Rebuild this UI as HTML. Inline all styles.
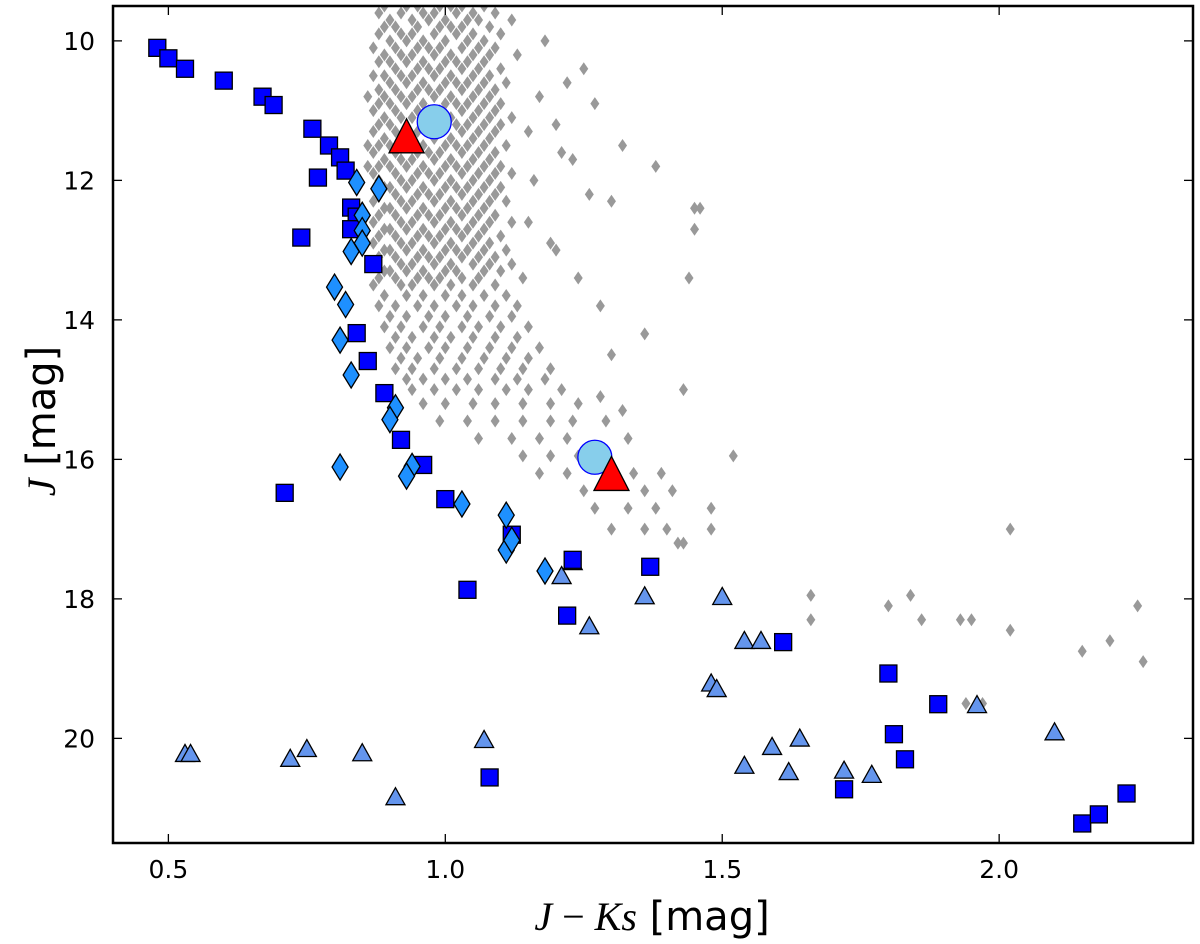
<!DOCTYPE html>
<html><head><meta charset="utf-8"><style>
html,body{margin:0;padding:0;background:#fff;}
svg{display:block;font-family:"DejaVu Sans","Liberation Sans",sans-serif;}
</style></head><body>
<svg id="chart" width="1200" height="944" viewBox="0 0 1200 944" xmlns="http://www.w3.org/2000/svg">
<rect x="0" y="0" width="1200" height="944" fill="#fff"/>
<g id="marks"></g>
<g id="axes"></g>
</svg>
<script>
const xTicks = [0.5, 1.0, 1.5, 2.0];
const xTickLabels = ["0.5", "1.0", "1.5", "2.0"];
const yTicks = [10, 12, 14, 16, 18, 20];
const yTickLabels = ["10", "12", "14", "16", "18", "20"];

// grey field stars: rows of [J, x1, x2, ...]
const greyRows = [
[9.5,0.89,0.93,0.95,0.99,1.01,1.03,1.07],
[9.6,0.88,0.92,0.96,0.98,1.02,1.05,1.09],
[9.7,0.90,0.94,0.97,1.00,1.04,1.06],
[9.8,0.89,0.91,0.95,0.99,1.01,1.03,1.08],
[9.9,0.88,0.92,0.94,0.98,1.02,1.05,1.10],
[10.0,0.90,0.93,0.96,1.00,1.04,1.07],
[10.1,0.87,0.91,0.95,0.97,0.99,1.03,1.06,1.09],
[10.2,0.89,0.92,0.94,0.98,1.01,1.05,1.08],
[10.3,0.88,0.90,0.93,0.96,1.00,1.02,1.04,1.07],
[10.4,0.91,0.95,0.97,0.99,1.03,1.06,1.10],
[10.5,0.87,0.89,0.92,0.94,0.98,1.01,1.05,1.08],
[10.6,0.90,0.93,0.96,1.00,1.02,1.04,1.07,1.11],
[10.7,0.88,0.91,0.95,0.97,0.99,1.03,1.06,1.09],
[10.8,0.86,0.89,0.92,0.94,0.98,1.01,1.05,1.08],
[10.9,0.88,0.90,0.93,0.96,1.00,1.02,1.04,1.07,1.10],
[11.0,0.87,0.91,0.95,0.97,0.99,1.03,1.06,1.09],
[11.1,0.89,0.92,0.94,0.98,1.01,1.05,1.08,1.12],
[11.2,0.88,0.90,0.96,1.00,1.02,1.04,1.07,1.10],
[11.3,0.87,0.91,0.95,0.97,0.99,1.03,1.06,1.09],
[11.4,0.89,0.92,0.94,0.98,1.01,1.05,1.08],
[11.5,0.86,0.88,0.90,0.93,0.96,1.00,1.02,1.04,1.07,1.11],
[11.6,0.87,0.91,0.95,0.97,0.99,1.03,1.06,1.09],
[11.7,0.89,0.92,0.94,0.98,1.01,1.05,1.08],
[11.8,0.86,0.88,0.90,0.93,0.96,1.00,1.02,1.04,1.07,1.10],
[11.9,0.87,0.91,0.95,0.97,0.99,1.03,1.06,1.09,1.12],
[12.0,0.88,0.92,0.94,0.98,1.01,1.05,1.08],
[12.1,0.89,0.90,0.93,0.96,1.00,1.02,1.04,1.07,1.10],
[12.2,0.88,0.91,0.95,0.97,0.99,1.03,1.06,1.09],
[12.3,0.87,0.92,0.94,0.98,1.01,1.05,1.08,1.11],
[12.4,0.89,0.90,0.93,0.96,1.00,1.02,1.04,1.07],
[12.5,0.88,0.91,0.95,0.97,0.99,1.03,1.06,1.09],
[12.6,0.87,0.92,0.94,0.98,1.01,1.05,1.08,1.12],
[12.7,0.89,0.90,0.93,0.96,1.00,1.02,1.04,1.07],
[12.8,0.88,0.91,0.95,0.97,0.99,1.03,1.06,1.10],
[12.9,0.87,0.92,0.94,0.98,1.01,1.05,1.08],
[13.0,0.89,0.90,0.93,0.96,1.00,1.02,1.04,1.07,1.11],
[13.1,0.88,0.91,0.95,0.97,0.99,1.03,1.06,1.09],
[13.2,0.92,0.94,0.98,1.01,1.05,1.08,1.12],
[13.3,0.89,0.90,0.93,0.96,1.00,1.02,1.07,1.10],
[13.4,0.88,0.91,0.95,0.97,0.99,1.03,1.06,1.14],
[13.5,0.87,0.92,0.94,0.98,1.01,1.05,1.09],
[13.65,0.89,0.93,0.96,1.00,1.03,1.07,1.11],
[13.8,0.88,0.91,0.95,0.98,1.02,1.05,1.09,1.13],
[13.95,0.90,0.93,0.97,1.00,1.04,1.08,1.12],
[14.1,0.89,0.92,0.96,0.99,1.03,1.06,1.10,1.15],
[14.25,0.91,0.94,0.98,1.01,1.05,1.09,1.13],
[14.4,0.90,0.93,0.97,1.00,1.04,1.08,1.12,1.17],
[14.55,0.92,0.95,0.99,1.03,1.07,1.11,1.15],
[14.7,0.91,0.94,0.98,1.02,1.06,1.10,1.14,1.19],
[14.85,0.93,0.96,1.00,1.04,1.09,1.13,1.18],
[15.0,0.94,0.98,1.02,1.06,1.11,1.15,1.21],
[15.2,0.96,1.00,1.05,1.09,1.14,1.19,1.24],
[15.45,0.99,1.04,1.09,1.14,1.19,1.23,1.29],
[15.7,1.06,1.12,1.17,1.22,1.33],
[15.95,1.14,1.19,1.24,1.52],
[16.2,1.17,1.22,1.34,1.39],
[16.45,1.25,1.36,1.41],
[16.7,1.27,1.33,1.38,1.48],
[17.0,1.30,1.36,1.40,1.48,2.02],
[17.2,1.42,1.43],
[17.95,1.66,1.84],
[18.1,1.80,2.25],
[18.3,1.66,1.86,1.93,1.95],
[18.45,2.02],
[18.6,2.20],
[18.75,2.15],
[18.9,2.26],
[19.5,1.94,1.97]
];
// sparse outliers to the right of the core
const outX = [1.13,1.18,1.22,1.25,1.27,1.15,1.20,1.32,1.38,1.16,1.23,1.30,1.45,1.45,1.46,1.20,1.24,1.28,1.44,1.36,1.30,1.28,1.32,1.43,1.15,1.19,1.26,1.12,1.10,1.17,1.21];
const outJ = [10.2,10.0,10.6,10.4,10.9,11.3,11.2,11.5,11.8,12.0,11.7,12.3,12.4,12.7,12.4,13.0,13.4,13.8,13.4,14.2,14.5,15.1,15.3,15.0,12.6,12.9,12.2,9.7,9.9,10.8,11.6];

const squareX = [0.48,0.50,0.53,0.60,0.67,0.69,0.76,0.79,0.81,0.82,0.77,0.83,0.84,0.83,0.74,0.87,0.84,0.86,0.89,0.92,0.96,0.71,1.00,1.12,1.04,1.23,1.37,1.22,1.61,1.80,1.89,1.81,1.83,1.72,1.08,2.15,2.18,2.23];
const squareJ = [10.1,10.25,10.4,10.57,10.8,10.92,11.26,11.5,11.67,11.86,11.96,12.39,12.52,12.7,12.82,13.2,14.19,14.59,15.05,15.72,16.08,16.48,16.57,17.08,17.87,17.44,17.54,18.24,18.62,19.07,19.51,19.94,20.3,20.73,20.56,21.22,21.09,20.79];

const diamondX = [0.84,0.88,0.85,0.85,0.85,0.83,0.80,0.82,0.81,0.83,0.91,0.90,0.94,0.93,0.81,1.03,1.11,1.11,1.12,1.18];
const diamondJ = [12.03,12.12,12.5,12.72,12.9,13.02,13.53,13.78,14.29,14.79,15.26,15.43,16.1,16.24,16.11,16.64,16.8,17.3,17.16,17.6];

const triX = [1.21,1.23,1.26,1.36,1.50,1.54,1.57,1.48,1.49,0.53,0.54,0.72,0.75,0.85,0.91,1.07,1.54,1.59,1.64,1.62,1.72,1.77,1.96,2.10];
const triJ = [17.68,17.48,18.4,17.97,17.98,18.61,18.61,19.22,19.3,20.23,20.23,20.3,20.16,20.22,20.85,20.03,20.4,20.13,20.01,20.49,20.47,20.53,19.53,19.92];

const bigTriX = [0.93,1.30];
const bigTriJ = [11.39,16.23];
const circleX = [0.98,1.27];
const circleJ = [11.16,15.97];

const L=113, R=1193, T=6, B=843;
const xMin=0.4, xMax=2.35, yMin=9.5, yMax=21.5;
function sx(v){return L+(v-xMin)/(xMax-xMin)*(R-L);}
function sy(v){return T+(v-yMin)/(yMax-yMin)*(B-T);}

const NS="http://www.w3.org/2000/svg";
const marks=document.getElementById('marks');
const axes=document.getElementById('axes');
function mk(tag,attrs,parent){const e=document.createElementNS(NS,tag);for(const k in attrs)e.setAttribute(k,attrs[k]);parent.appendChild(e);return e;}

const defs=mk('defs',{},marks);
const cp=mk('clipPath',{id:'clip'},defs);
mk('rect',{x:L,y:T,width:R-L,height:B-T},cp);
const gGrey=mk('g',{'clip-path':'url(#clip)'},marks);



function greyStar(xv,jv){
  const x=sx(xv), y=sy(jv);
  const p=mk('polygon',{points:`${x},${y-6.5} ${x+4.5},${y} ${x},${y+6.5} ${x-4.5},${y}`,fill:'#999999'},gGrey);
  
  
}
greyRows.forEach(row=>{
  for(let i=1;i<row.length;i++) greyStar(row[i],row[0]);
});
outX.forEach((v,i)=>greyStar(v,outJ[i]));

const gMain=mk('g',{'clip-path':'url(#clip)'},marks);



triX.forEach((v,i)=>{
  const x=sx(v), y=sy(triJ[i]);
  const p=mk('polygon',{points:`${x},${y-10} ${x+9.5},${y+7} ${x-9.5},${y+7}`,fill:'#6495ed',stroke:'#000','stroke-width':1.3},gMain);
  
  
});
squareX.forEach((v,i)=>{
  const x=sx(v), y=sy(squareJ[i]);
  const r=mk('rect',{x:x-8.5,y:y-8.5,width:17,height:17,fill:'#0000ff',stroke:'#000','stroke-width':1.3},gMain);
  
  
});
diamondX.forEach((v,i)=>{
  const x=sx(v), y=sy(diamondJ[i]);
  const p=mk('polygon',{points:`${x},${y-13} ${x+8},${y} ${x},${y+13} ${x-8},${y}`,fill:'#1e90ff',stroke:'#000','stroke-width':1.3},gMain);
  
  
});
circleX.forEach((v,i)=>{
  const c=mk('circle',{cx:sx(v),cy:sy(circleJ[i]),r:17,fill:'#87ceeb',stroke:'#0000ff','stroke-width':1.3},gMain);
  
  
});
bigTriX.forEach((v,i)=>{
  const x=sx(v), y=sy(bigTriJ[i]);
  const p=mk('polygon',{points:`${x},${y-19} ${x+17.5},${y+15} ${x-17.5},${y+15}`,fill:'#ff0000',stroke:'#000','stroke-width':1.3},gMain);
  
  
});

const fr=mk('rect',{x:L,y:T,width:R-L,height:B-T,fill:'none',stroke:'#000','stroke-width':2.5},axes);



xTicks.forEach((v,i)=>{
  const x=sx(v);
  const t1=mk('line',{x1:x,y1:B,x2:x,y2:B-9,stroke:'#000','stroke-width':1.3},axes);
  
  
  const t2=mk('line',{x1:x,y1:T,x2:x,y2:T+9,stroke:'#000','stroke-width':1.3},axes);
  
  
  const tx=mk('text',{x:x,y:B+35,'font-size':25,'text-anchor':'middle',fill:'#000'},axes);
  tx.textContent=xTickLabels[i];
  
  
});
yTicks.forEach((v,i)=>{
  const y=sy(v);
  const t1=mk('line',{x1:L,y1:y,x2:L+9,y2:y,stroke:'#000','stroke-width':1.3},axes);
  
  
  const t2=mk('line',{x1:R,y1:y,x2:R-9,y2:y,stroke:'#000','stroke-width':1.3},axes);
  
  
  const tx=mk('text',{x:L-18,y:y+9,'font-size':25,'text-anchor':'end',fill:'#000'},axes);
  tx.textContent=yTickLabels[i];
  
  
});

const xl=mk('text',{x:652,y:930,'font-size':40,'text-anchor':'middle',fill:'#000'},axes);


xl.innerHTML='<tspan font-family="Liberation Serif, serif" font-style="italic">J</tspan><tspan font-family="Liberation Serif, serif"> − </tspan><tspan font-family="Liberation Serif, serif" font-style="italic">Ks</tspan><tspan> [mag]</tspan>';

const yl=mk('text',{x:0,y:0,'font-size':40,'text-anchor':'middle',fill:'#000',transform:'translate(55,421) rotate(-90)'},axes);


yl.innerHTML='<tspan font-family="Liberation Serif, serif" font-style="italic">J</tspan><tspan> [mag]</tspan>';
</script>
</body></html>
